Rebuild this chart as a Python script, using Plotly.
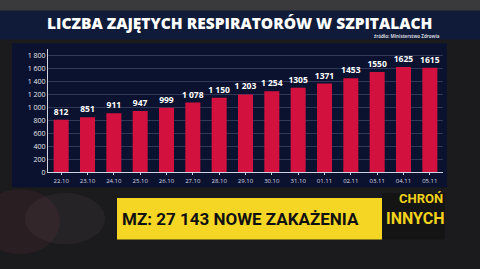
import plotly.graph_objects as go

dates = ["22.10", "23.10", "24.10", "25.10", "26.10", "27.10", "28.10", "29.10",
         "30.10", "31.10", "01.11", "02.11", "03.11", "04.11", "05.11"]
values = [812, 851, 911, 947, 999, 1078, 1150, 1203, 1254, 1305, 1371, 1453, 1550, 1625, 1615]
value_labels = ["812", "851", "911", "947", "999", "1 078", "1 150", "1 203", "1 254",
                "1305", "1371", "1453", "1550", "1625", "1615"]
y_ticks = [0, 200, 400, 600, 800, 1000, 1200, 1400, 1600, 1800]
y_tick_labels = ["0", "200", "400", "600", "800", "1 000", "1 200", "1 400", "1 600", "1 800"]

title = "LICZBA ZAJĘTYCH RESPIRATORÓW W SZPITALACH"
source = "źródło: Ministerstwo Zdrowia"
ticker = "MZ: 27 143 NOWE ZAKAŻENIA"

W, H = 480, 269

def px(x0, y0, x1, y1):
    return dict(xref="paper", yref="paper", x0=x0 / W, x1=x1 / W,
                y0=1 - y1 / H, y1=1 - y0 / H)

fig = go.Figure()
fig.add_trace(go.Bar(
    x=dates, y=values, text=value_labels, textposition="outside",
    texttemplate="%{text}", cliponaxis=False, constraintext="none",
    marker=dict(color="#d3113f", line=dict(width=0)),
    textfont=dict(family="Open Sans", size=8.5, color="white", weight="bold"),
))

shapes = [
    dict(type="rect", **px(0, 0, 480, 11), fillcolor="#3a3a3c", line_width=0, layer="below"),
    dict(type="rect", **px(0, 11, 480, 40), fillcolor="#0f1b38", line_width=0, layer="below"),
    dict(type="rect", **px(12, 44, 447, 190), fillcolor="#0b1230", line_width=0, layer="below"),
    dict(type="circle", **px(-20, 192, 60, 258), fillcolor="#5a2a32", line_width=0, layer="below", opacity=0.22),
    dict(type="circle", **px(25, 196, 105, 248), fillcolor="#6a5a5e", line_width=0, layer="below", opacity=0.15),
    dict(type="rect", **px(117, 201, 382, 243), fillcolor="#f6d625", line_width=0),
    dict(type="rect", **px(382, 196, 445, 243), fillcolor="#141414", line_width=0),
]

annotations = [
    dict(text=title, x=239 / W, y=1 - 23 / H, xref="paper", yref="paper",
         showarrow=False, xanchor="center", yanchor="middle",
         font=dict(family="Open Sans", size=15.5, color="white", weight=800)),
    dict(text=source, x=442 / W, y=1 - 36.8 / H, xref="paper", yref="paper",
         showarrow=False, xanchor="right", yanchor="middle",
         font=dict(family="Open Sans", size=4.5, color="#cfd3dc", weight="bold")),
    dict(text=ticker, x=120 / W, y=1 - 222 / H, xref="paper", yref="paper",
         showarrow=False, xanchor="left", yanchor="middle",
         font=dict(family="Roboto", size=17, color="#111111", weight="bold")),
    dict(text="CHROŃ", x=445 / W, y=1 - 201.5 / H, xref="paper", yref="paper",
         showarrow=False, xanchor="right", yanchor="middle",
         font=dict(family="Roboto", size=13, color="#f2d21c", weight="bold")),
    dict(text="INNYCH", x=446 / W, y=1 - 222 / H, xref="paper", yref="paper",
         showarrow=False, xanchor="right", yanchor="middle",
         font=dict(family="Roboto", size=16, color="#f2d21c", weight="bold")),
]

fig.update_layout(
    width=W, height=H, margin=dict(l=0, r=0, t=0, b=0),
    paper_bgcolor="#1b1b1d", plot_bgcolor="rgba(0,0,0,0)",
    showlegend=False, bargap=0.43,
    shapes=shapes, annotations=annotations,
    xaxis=dict(domain=[48 / W, 443 / W], showgrid=False, showline=True,
               linecolor="#d0d4e0", linewidth=1, ticks="outside", ticklen=2,
               tickcolor="#d0d4e0", tickfont=dict(family="Open Sans", size=6, color="#d6d9e2"),
               fixedrange=True),
    yaxis=dict(domain=[1 - 175 / H, 1 - 50 / H], range=[0, 1900],
               tickvals=y_ticks, ticktext=y_tick_labels,
               showgrid=True, gridcolor="rgba(160,175,210,0.25)", gridwidth=1,
               showline=True, linecolor="#d0d4e0", linewidth=1, zeroline=False,
               ticks="", tickfont=dict(family="Open Sans", size=7, color="#e6e8ee"),
               fixedrange=True),
)

fig.write_html("out.html")
